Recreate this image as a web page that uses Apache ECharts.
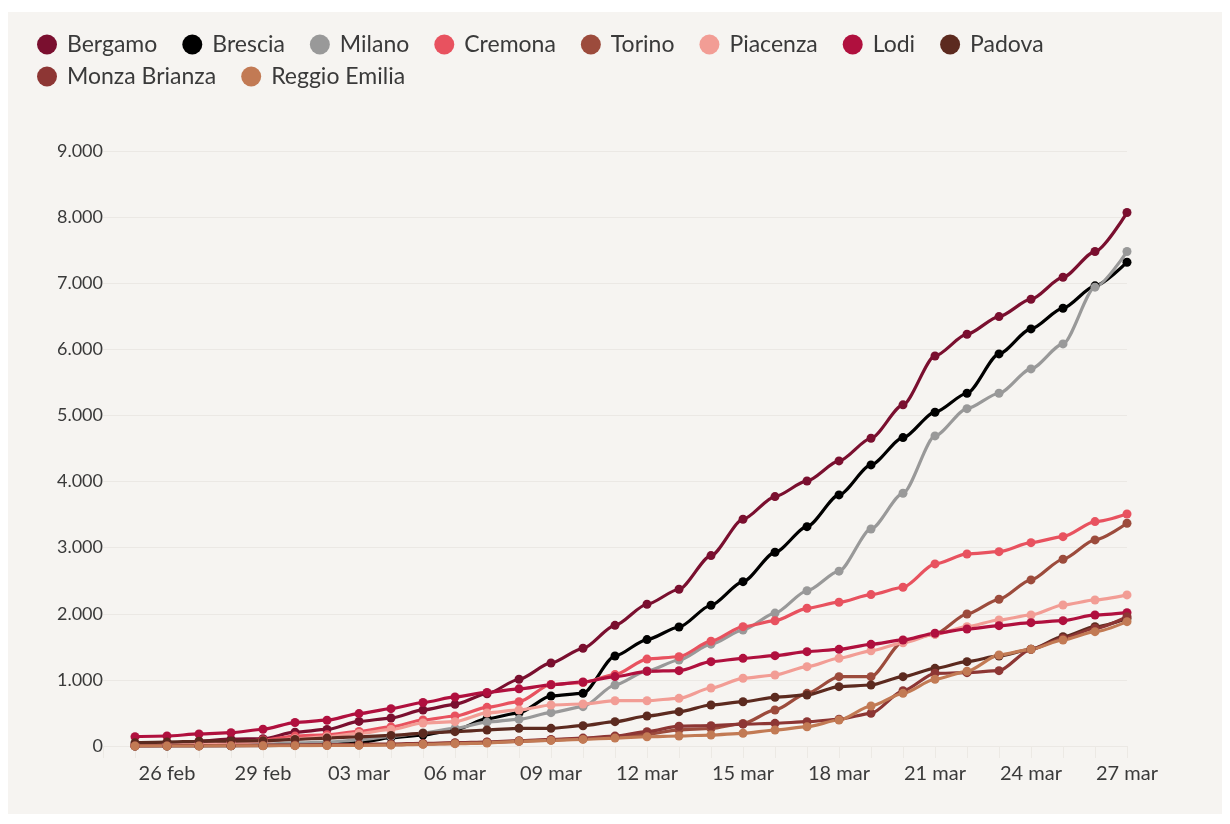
<!DOCTYPE html>
<html><head><meta charset="utf-8">
<script src="https://cdn.jsdelivr.net/npm/echarts@6/dist/echarts.min.js"></script>
<style>
html,body{margin:0;padding:0;background:#fff;width:1230px;height:824px;overflow:hidden}
#bg{position:absolute;left:8px;top:12px;width:1214px;height:802px;background:#f6f4f1}
#chart{position:absolute;left:0;top:0;width:1230px;height:824px}
</style></head><body><div id="bg"></div><div id="chart"></div>
<script>
// x categories (24 feb .. 27 mar); data series start on 25 feb
const dates = ['24 feb','25 feb','26 feb','27 feb','28 feb','29 feb','01 mar','02 mar','03 mar','04 mar','05 mar','06 mar','07 mar','08 mar','09 mar','10 mar','11 mar','12 mar','13 mar','14 mar','15 mar','16 mar','17 mar','18 mar','19 mar','20 mar','21 mar','22 mar','23 mar','24 mar','25 mar','26 mar','27 mar'];
const yTicks = [0,1000,2000,3000,4000,5000,6000,7000,8000,9000];

const bergamo  = [20,20,72,103,110,209,250,372,423,545,630,790,1010,1256,1478,1825,2144,2371,2880,3430,3773,4009,4312,4655,5160,5900,6229,6495,6758,7091,7479,8069];
const brescia  = [0,0,2,2,6,14,33,52,127,166,242,413,501,757,797,1361,1610,1800,2129,2486,2930,3318,3798,4252,4665,5049,5336,5931,6309,6622,6960,7318];
const milano   = [3,8,15,26,30,46,58,93,145,197,267,361,404,504,595,923,1135,1301,1540,1755,2010,2348,2645,3283,3823,4690,5103,5336,5704,6082,6940,7479];
const cremona  = [5,10,25,50,90,150,170,220,290,393,454,585,670,930,960,1080,1315,1350,1585,1805,1895,2083,2175,2290,2401,2754,2905,2940,3076,3167,3394,3510];
const torino   = [0,2,3,5,8,10,12,15,20,30,40,55,70,90,110,140,180,245,265,340,545,797,1049,1049,1578,1694,1997,2219,2512,2825,3117,3369];
const piacenza = [15,20,30,40,70,110,140,190,250,348,368,500,545,620,635,685,685,721,877,1024,1074,1200,1327,1440,1560,1690,1805,1906,1982,2133,2209,2285];
const lodi     = [141,151,182,201,253,355,390,490,565,658,742,811,865,925,968,1050,1130,1140,1276,1326,1367,1427,1462,1538,1604,1705,1770,1820,1866,1896,1982,2017];
const padova   = [50,60,70,75,80,100,120,140,160,192,217,242,267,267,307,368,454,519,620,670,737,772,898,923,1049,1175,1276,1362,1463,1654,1805,1930];
const monza    = [2,4,5,8,10,15,20,25,30,40,50,60,80,100,120,150,217,300,307,330,343,368,404,494,835,1100,1109,1140,1463,1629,1781,1955];
const reggio   = [0,0,0,2,3,5,8,10,15,25,35,45,70,85,100,120,140,151,166,192,242,292,393,605,797,1010,1130,1377,1463,1604,1730,1881];

const names  = ['Bergamo','Brescia','Milano','Cremona','Torino','Piacenza','Lodi','Padova','Monza Brianza','Reggio Emilia'];
const values = [bergamo,brescia,milano,cremona,torino,piacenza,lodi,padova,monza,reggio];
const colors = ['#7a0f2f','#000000','#999999','#e8525f','#9c4b3c','#f29d95','#b0103e','#5c2a1f','#8d3634','#c27a54'];

const FONT = 'Lato, "Open Sans", sans-serif';
const fmt = v => String(v).replace(/\B(?=(\d{3})+(?!\d))/g, '.');

const chart = echarts.init(document.getElementById('chart'), null, {renderer:'canvas'});
chart.setOption({
  animation: false,
  color: colors,
  textStyle: {fontFamily: FONT},
  legend: {
    left: 32, top: 28, width: 1040,
    icon: 'circle', itemWidth: 20, itemHeight: 20, itemGap: 9,
    textStyle: {fontSize: 23, lineHeight: 20, color: '#3a3a3a', fontFamily: FONT, padding: [0,16,0,5]},
    data: names
  },
  grid: {left: 103, right: 103, top: 151, bottom: 78, containLabel: false},
  xAxis: {
    type: 'category', data: dates, boundaryGap: false,
    axisLine: {show: false},
    axisTick: {show: true, interval: 0, length: 12, lineStyle: {color: '#ece9e4'}},
    axisLabel: {interval: (i) => i % 3 === 2, fontSize: 20, color: '#3a3a3a', margin: 18, fontFamily: FONT},
    splitLine: {show: false}
  },
  yAxis: {
    type: 'value', min: yTicks[0], max: yTicks[yTicks.length-1], interval: 1000,
    axisLine: {show: false}, axisTick: {show: false},
    axisLabel: {formatter: fmt, fontSize: 18, color: '#3a3a3a', margin: 0, fontFamily: FONT},
    splitLine: {lineStyle: {color: '#ebe8e4', width: 1}}
  },
  series: names.map((n, k) => ({
    name: n, type: 'line',
    data: [null].concat(values[k]),
    smooth: 0.25, smoothMonotone: 'x',
    symbol: 'circle', symbolSize: 9, showSymbol: true,
    lineStyle: {width: 3.2, color: colors[k]},
    itemStyle: {color: colors[k]},
    emphasis: {disabled: true}
  }))
});
</script></body></html>
